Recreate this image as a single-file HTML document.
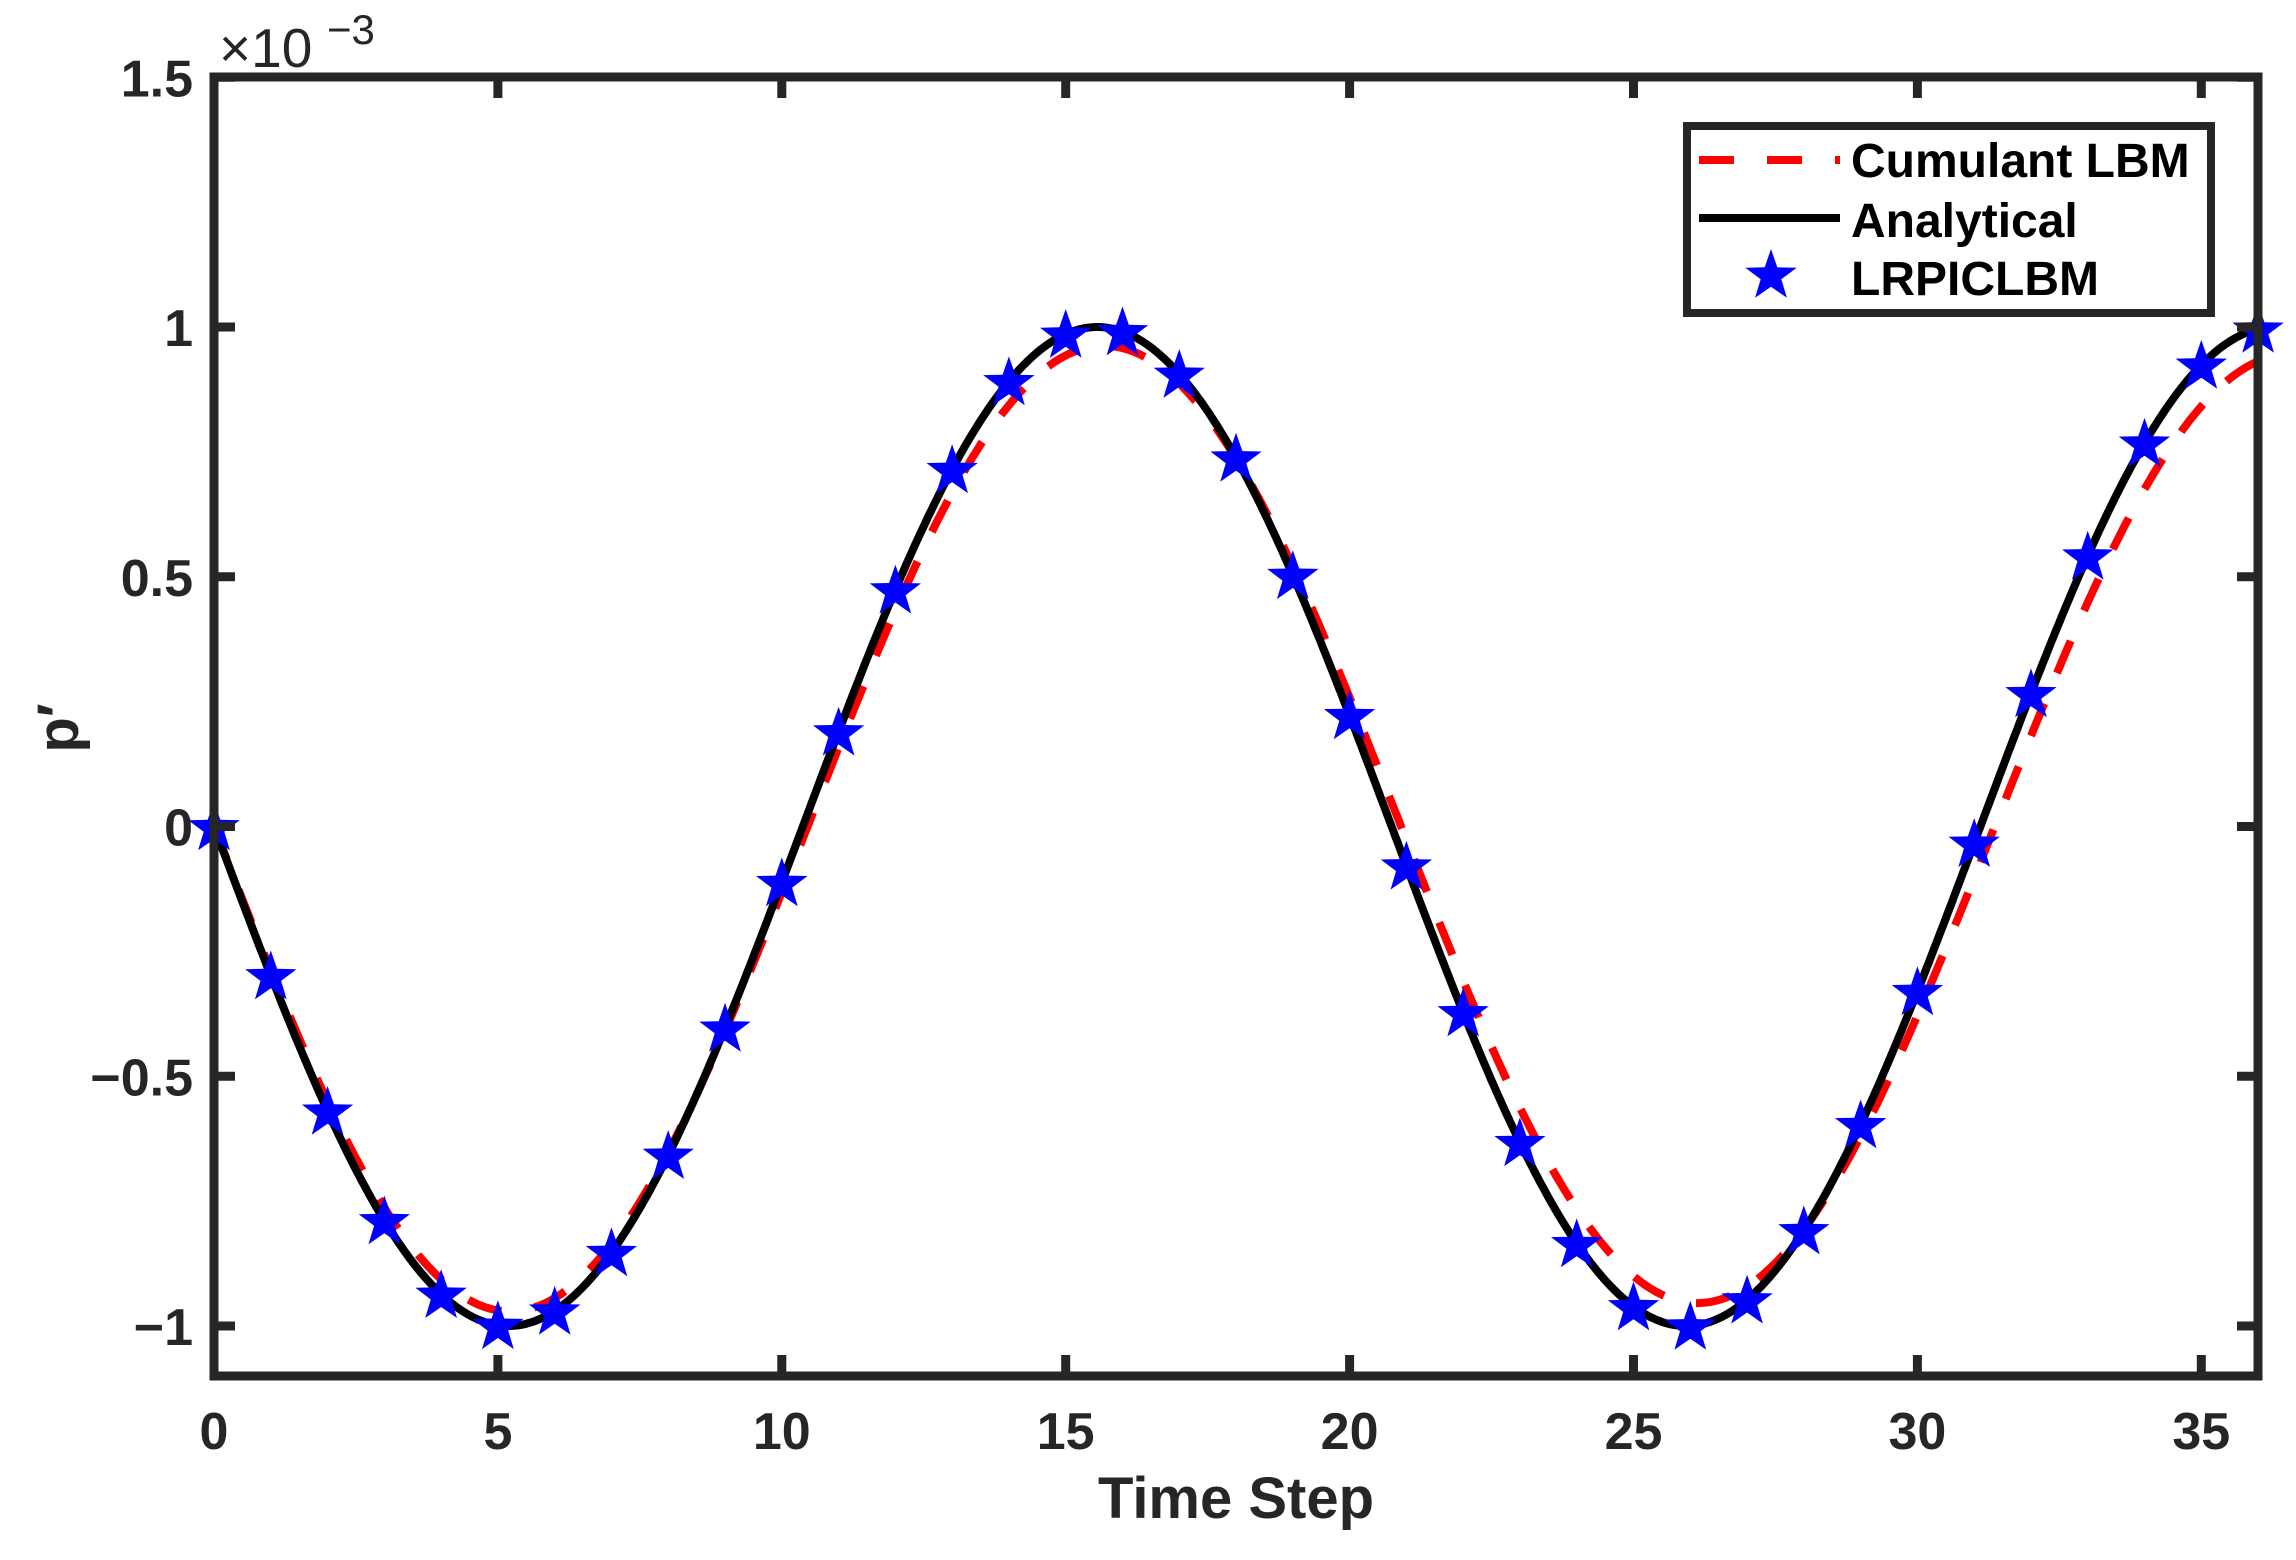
<!DOCTYPE html>
<html><head><meta charset="utf-8"><style>
html,body{margin:0;padding:0;background:#fff;}
svg{display:block;}
text{font-family:"Liberation Sans",Arial,sans-serif;font-weight:bold;fill:#262626;}
</style></head><body>
<svg id="s" width="2296" height="1560" viewBox="0 0 2296 1560" xmlns="http://www.w3.org/2000/svg">
<rect width="2296" height="1560" fill="#fff"/>
<g id="plot"></g>
<rect x="214" y="77" width="2044" height="1299" fill="none" stroke="#262626" stroke-width="9"/>
<g id="ticks" stroke="#262626" stroke-width="9"></g>
<g id="labels" font-size="52"></g>
<text x="219" y="67" font-size="55" style="font-weight:normal">×10</text>
<text x="327" y="44" font-size="42" style="font-weight:normal">−3</text>
<text x="1236" y="1518" font-size="58" text-anchor="middle">Time Step</text>
<text transform="translate(78,728) rotate(-90)" font-size="58" text-anchor="middle">p′</text>
<rect x="1687" y="126" width="524" height="187" fill="#fff" stroke="#262626" stroke-width="8"/>
<line x1="1699" y1="160" x2="1840" y2="160" stroke="#f00" stroke-width="8" stroke-dasharray="35,33"/>
<line x1="1699" y1="218" x2="1840" y2="218" stroke="#000" stroke-width="8"/>
<path id="lstar" fill="#00f"/>
<g font-size="48" style="fill:#000">
<text x="1851" y="177" style="fill:#000">Cumulant LBM</text>
<text x="1851" y="237" style="fill:#000">Analytical</text>
<text x="1851" y="295" style="fill:#000">LRPICLBM</text>
</g>
</svg>
<script>
var NS="http://www.w3.org/2000/svg";
function X(t){return 214+t*56.78;}
function Y(v){return 826.5-v*499.5;}
var T=20.74;
function an(t){return -Math.sin(2*Math.PI*t/T);}
function cu(t){var A=0.975-0.0008*t;return -A*Math.sin(2*Math.PI*(t-0.008*t)/T);}
function star(cx,cy,R){var r=R*0.4,d="";for(var i=0;i<10;i++){var a=-Math.PI/2+i*Math.PI/5,rr=i%2?r:R;d+=(i?"L":"M")+(cx+rr*Math.cos(a)).toFixed(1)+","+(cy+rr*Math.sin(a)).toFixed(1);}return d+"Z";}
var g=document.getElementById("plot");
function path(f,attrs){var d="";for(var i=0;i<=720;i++){var t=i*36/720;d+=(i?"L":"M")+X(t).toFixed(1)+","+Y(f(t)).toFixed(1);}var p=document.createElementNS(NS,"path");p.setAttribute("d",d);for(var k in attrs)p.setAttribute(k,attrs[k]);g.appendChild(p);}
path(cu,{fill:"none",stroke:"#f00","stroke-width":8,"stroke-dasharray":"35,33"});
path(an,{fill:"none",stroke:"#000","stroke-width":8});
var sd="";for(var t=0;t<=36;t++){sd+=star(X(t),Y(an(t))+2,27);}
var sp=document.createElementNS(NS,"path");sp.setAttribute("d",sd);sp.setAttribute("fill","#00f");g.appendChild(sp);
document.getElementById("lstar").setAttribute("d",star(1771,276,27));
var tk=document.getElementById("ticks"),lb=document.getElementById("labels");
function ln(a,b,c,d){var l=document.createElementNS(NS,"line");l.setAttribute("x1",a);l.setAttribute("y1",b);l.setAttribute("x2",c);l.setAttribute("y2",d);tk.appendChild(l);}
function tx(x,y,s,anc){var e=document.createElementNS(NS,"text");e.setAttribute("x",x);e.setAttribute("y",y);e.setAttribute("text-anchor",anc);e.textContent=s;lb.appendChild(e);}
for(var t=0;t<=35;t+=5){var x=X(t);ln(x,1376,x,1355);ln(x,77,x,98);tx(x,1449,String(t),"middle");}
var yv=[-1,-0.5,0,0.5,1,1.5],ys=["−1","−0.5","0","0.5","1","1.5"];
for(var i=0;i<yv.length;i++){var y=Y(yv[i]);ln(214,y,235,y);ln(2258,y,2237,y);tx(193,y+19,ys[i],"end");}
</script>
</body></html>
